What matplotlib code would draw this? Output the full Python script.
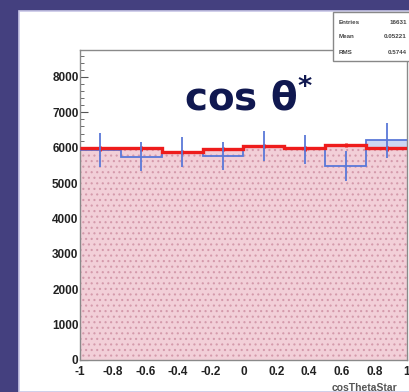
import numpy as np
import matplotlib
matplotlib.use('Agg')
import matplotlib.pyplot as plt
from matplotlib.patches import Rectangle
from matplotlib.ticker import MultipleLocator

plt.rcParams['font.family'] = ['Liberation Sans', 'DejaVu Sans']
plt.rcParams['mathtext.fontset'] = 'dejavusans'
plt.rcParams['hatch.linewidth'] = 0.8

# cos(theta*) histogram: 8 bins from -1 to 1
bin_edges = np.linspace(-1, 1, 9)
mc_counts = [5980, 5980, 5880, 5960, 6040, 5980, 6080, 5980]
mc_errors = [60, 60, 60, 60, 60, 60, 60, 60]
data_counts = [5940, 5750, 5880, 5760, 6040, 5950, 5480, 6210]
data_errors = [480, 410, 420, 390, 420, 420, 430, 490]

x_ticks = [-1, -0.8, -0.6, -0.4, -0.2, 0, 0.2, 0.4, 0.6, 0.8, 1]
y_ticks = [0, 1000, 2000, 3000, 4000, 5000, 6000, 7000, 8000]

stats_names = ['Entries', 'Mean', 'RMS']
stats_values = ['16631', '0.05221', '0.5744']

W, H = 410, 392
fig = plt.figure(figsize=(W / 100, H / 100), dpi=100, facecolor='#44407f')

# white pad on the slide
fig.patches.append(Rectangle((19 / W, 0), 1, 1 - 11 / H, transform=fig.transFigure,
                             facecolor='white', edgecolor='#c8c6e6', linewidth=1.2, zorder=-1))

ax = fig.add_axes([80 / W, 1 - 360 / H, 327 / W, 310 / H])
ax.set_zorder(1)
ax.set_xlim(-1, 1)
ax.set_ylim(0, 8760)

centers = 0.5 * (bin_edges[:-1] + bin_edges[1:])

# data fill (light blue), then MC fill on top with dotted pattern
ax.stairs(data_counts, bin_edges, fill=True, facecolor='#cdd7f2', linewidth=0, zorder=1)
ax.stairs(mc_counts, bin_edges, fill=True, facecolor='#f2cfd8', edgecolor='#d49aab',
          hatch='...', linewidth=0, zorder=2)
ax.stairs(data_counts, bin_edges, baseline=None, color='#5a78d8', linewidth=1.3, zorder=3)
ax.stairs(mc_counts, bin_edges, baseline=None, color='#ee1c1c', linewidth=2.4, zorder=4)
ax.errorbar(centers, mc_counts, yerr=mc_errors, fmt='none', ecolor='#ee1c1c',
            elinewidth=2.0, zorder=4)
ax.errorbar(centers, data_counts, yerr=data_errors, fmt='none', ecolor='#5a78d8',
            elinewidth=1.3, zorder=5)

ax.set_xticks(x_ticks)
ax.set_xticklabels([f'{v:g}' for v in x_ticks], fontweight='bold')
ax.set_yticks(y_ticks)
ax.set_yticklabels([f'{v:g}' for v in y_ticks], fontweight='bold')
ax.yaxis.set_minor_locator(MultipleLocator(200))
ax.xaxis.set_minor_locator(MultipleLocator(0.04))
ax.tick_params(which='both', direction='in', color='#555555', top=False, right=False)
ax.tick_params(which='major', length=6, width=0.8, labelsize=8.5, labelcolor='#222222')
ax.tick_params(which='minor', length=3, width=0.6)
ax.tick_params(axis='y', pad=1)
ax.tick_params(axis='x', pad=4)
for s in ax.spines.values():
    s.set_color('#8a8a8a')
    s.set_linewidth(1.0)

ax.text(0.515, 0.845, r'cos θ$^{\mathbf{*}}$', transform=ax.transAxes, ha='center',
        va='center', fontsize=28, fontweight='bold', color='#101850',
        family='DejaVu Sans', zorder=6)

fig.text(397 / W, 1 - 388 / H, 'cosThetaStar', ha='right', va='center', fontsize=7.5,
         fontweight='bold', color='#555555')

# stats box
fig.patches.append(Rectangle((333 / W, 1 - 61 / H), 0.3, 49 / H, transform=fig.transFigure,
                             facecolor='white', edgecolor='#888888', linewidth=1.0, zorder=5))
for i, (name, val) in enumerate(zip(stats_names, stats_values)):
    y = 1 - (22 + i * 15) / H
    fig.text(339 / W, y, name, fontsize=4.5, fontweight='bold', color='#444444',
             va='center', zorder=6)
    fig.text(407 / W, y, val, fontsize=4.5, fontweight='bold', color='#444444',
             va='center', ha='right', zorder=6)

fig.savefig('out.png', dpi=100, facecolor=fig.get_facecolor())
